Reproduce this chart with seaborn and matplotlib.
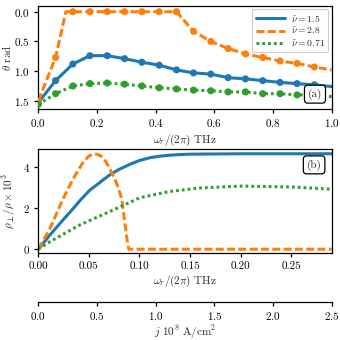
import matplotlib
matplotlib.use("Agg")
import matplotlib.pyplot as plt
import seaborn as sns

# ---------------- data: panel (a) ----------------
omega_a_markers = [0.0, 0.059, 0.118, 0.176, 0.235, 0.294, 0.353, 0.412, 0.471,
                   0.529, 0.588, 0.647, 0.706, 0.765, 0.824, 0.882, 0.941]
theta_blue_markers = [1.53, 1.16, 0.88, 0.74, 0.74, 0.79, 0.85, 0.90, 0.98,
                      1.03, 1.05, 1.11, 1.13, 1.16, 1.19, 1.21, 1.23]
theta_orange_markers = [1.50, 0.77, 0.0, 0.0, 0.0, 0.0, 0.0, 0.0, 0.0,
                        0.33, 0.50, 0.62, 0.71, 0.77, 0.83, 0.87, 0.93]
theta_green_markers = [1.56, 1.38, 1.25, 1.21, 1.20, 1.22, 1.25, 1.28, 1.30,
                       1.32, 1.33, 1.35, 1.35, 1.38, 1.38, 1.40, 1.40]

omega_a_line = [0.0, 0.059, 0.118, 0.176, 0.235, 0.294, 0.353, 0.412, 0.471,
                0.529, 0.588, 0.647, 0.706, 0.765, 0.824, 0.882, 0.941, 1.0]
theta_blue_line = [1.53, 1.16, 0.88, 0.74, 0.74, 0.79, 0.85, 0.90, 0.98,
                   1.03, 1.05, 1.11, 1.13, 1.16, 1.19, 1.21, 1.23, 1.26]
theta_green_line = [1.56, 1.38, 1.25, 1.21, 1.20, 1.22, 1.25, 1.28, 1.30,
                    1.32, 1.33, 1.35, 1.35, 1.38, 1.38, 1.40, 1.40, 1.43]
omega_a_orange_line = [0.0, 0.059, 0.094, 0.471, 0.529, 0.588, 0.647, 0.706,
                       0.765, 0.824, 0.882, 0.941, 1.0]
theta_orange_line = [1.50, 0.77, 0.0, 0.0, 0.33, 0.50, 0.62, 0.71,
                     0.77, 0.83, 0.87, 0.93, 0.98]

# ---------------- data: panel (b) ----------------
omega_b_blue = [0.0, 0.0116, 0.0248, 0.033, 0.0413, 0.0512, 0.0578, 0.065, 0.071,
                0.080, 0.0908, 0.100, 0.1106, 0.120, 0.130, 0.140, 0.150, 0.200,
                0.250, 0.290]
rho_blue = [0.0, 0.70, 1.45, 1.90, 2.38, 2.90, 3.14, 3.42, 3.64,
            3.90, 4.15, 4.33, 4.47, 4.54, 4.59, 4.62, 4.64, 4.66,
            4.66, 4.66]
omega_b_orange = [0.0, 0.0116, 0.0248, 0.0347, 0.0446, 0.0500, 0.0545, 0.0585,
                  0.062, 0.0665, 0.071, 0.0776, 0.0826, 0.0855, 0.0885, 0.0895,
                  0.290]
rho_orange = [0.0, 1.02, 2.49, 3.46, 4.27, 4.55, 4.65, 4.63,
              4.55, 4.30, 3.90, 3.20, 2.45, 1.30, 0.20, 0.0,
              0.0]
omega_b_green = [0.0, 0.0116, 0.0413, 0.0743, 0.1007, 0.130, 0.160, 0.200,
                 0.250, 0.290]
rho_green = [0.0, 0.37, 1.19, 1.92, 2.52, 2.82, 2.99, 3.08, 3.04, 2.93]

legend_labels = [r"$\tilde{\nu}=1.5$", r"$\tilde{\nu}=2.8$", r"$\tilde{\nu}=0.71$"]
colors = ["#1f77b4", "#ff7f0e", "#2ca02c"]

j_ticks = [0.0, 0.5, 1.0, 1.5, 2.0, 2.5]

# ---------------- style ----------------
sns.set_style("ticks")
plt.rcParams.update({
    "font.family": "serif",
    "font.serif": ["cmr10", "DejaVu Serif"],
    "mathtext.fontset": "cm",
    "axes.formatter.use_mathtext": True,
    "font.size": 8,
    "axes.labelsize": 8,
    "xtick.labelsize": 8,
    "ytick.labelsize": 8,
    "axes.linewidth": 0.9,
    "axes.edgecolor": "black",
    "xtick.major.size": 3,
    "ytick.major.size": 3,
    "xtick.major.width": 0.9,
    "ytick.major.width": 0.9,
    "xtick.major.pad": 3,
    "ytick.major.pad": 3,
    "xtick.color": "black",
    "ytick.color": "black",
})

fig = plt.figure(figsize=(3.4, 3.4), dpi=100)
L, W = 0.1126, 0.863
ax1 = fig.add_axes([L, 0.679, W, 0.304])
ax2 = fig.add_axes([L, 0.255, W, 0.306])
ax3 = fig.add_axes([L, 0.112, W, 0.0001])

lw = 2.2
dash_o = (2.6, 1.1)
dot_g = (0.9, 1.0)

# panel (a)
sns.lineplot(x=omega_a_line, y=theta_blue_line, ax=ax1, color=colors[0], lw=lw,
             label=legend_labels[0], sort=False)
sns.lineplot(x=omega_a_orange_line, y=theta_orange_line, ax=ax1, color=colors[1],
             lw=lw, label=legend_labels[1], sort=False)
sns.lineplot(x=omega_a_line, y=theta_green_line, ax=ax1, color=colors[2], lw=lw,
             label=legend_labels[2], sort=False)
lines = ax1.get_lines()
lines[1].set_dashes(dash_o)
lines[2].set_dashes(dot_g)
for yv, c in zip([theta_blue_markers, theta_orange_markers, theta_green_markers], colors):
    sns.scatterplot(x=omega_a_markers, y=yv, ax=ax1, color=c, s=26,
                    edgecolor="none", linewidth=0, zorder=3)

ax1.set_xlim(0, 1.0)
ax1.set_ylim(1.64, -0.10)
ax1.set_yticks([0.0, 0.5, 1.0, 1.5])
ax1.set_xticks([0.0, 0.2, 0.4, 0.6, 0.8, 1.0])
ax1.set_xlabel(r"$\omega_r/(2\pi)$ THz", labelpad=2)
ax1.set_ylabel(r"$\theta$ rad")
ax1.yaxis.set_label_coords(-0.085, 0.5)
leg = ax1.legend(loc="upper right", fontsize=7, handlelength=3.0,
                 frameon=True, fancybox=True, framealpha=1, edgecolor="#cccccc",
                 borderpad=0.35, labelspacing=0.2, handletextpad=0.6,
                 borderaxespad=0.35)
leg.get_frame().set_linewidth(0.8)
ax1.text(0.943, 0.145, "(a)", transform=ax1.transAxes, ha="center", va="center",
         fontsize=8, bbox=dict(boxstyle="round,pad=0.3", fc="white", ec="black", lw=0.9))

# panel (b)
sns.lineplot(x=omega_b_blue, y=rho_blue, ax=ax2, color=colors[0], lw=lw, sort=False)
sns.lineplot(x=omega_b_orange, y=rho_orange, ax=ax2, color=colors[1], lw=lw, sort=False)
sns.lineplot(x=omega_b_green, y=rho_green, ax=ax2, color=colors[2], lw=lw, sort=False)
l2 = ax2.get_lines()
l2[1].set_dashes(dash_o)
l2[2].set_dashes(dot_g)
ax2.set_xlim(0, 0.29)
ax2.set_ylim(-0.2, 4.88)
ax2.set_yticks([0, 2, 4])
ax2.set_xticks([0.0, 0.05, 0.10, 0.15, 0.20, 0.25])
ax2.set_xticklabels(["0.00", "0.05", "0.10", "0.15", "0.20", "0.25"])
ax2.set_xlabel(r"$\omega_r/(2\pi)$ THz", labelpad=2)
ax2.set_ylabel(r"$\rho_\perp/\rho\times10^3$")
ax2.yaxis.set_label_coords(-0.068, 0.5)
if ax2.get_legend() is not None:
    ax2.get_legend().remove()
ax2.text(0.94, 0.85, "(b)", transform=ax2.transAxes, ha="center", va="center",
         fontsize=8, bbox=dict(boxstyle="round,pad=0.3", fc="white", ec="black", lw=0.9))

# current axis
ax3.set_xlim(0, 2.5)
ax3.set_xticks(j_ticks)
ax3.set_yticks([])
for s in ["left", "right", "top"]:
    ax3.spines[s].set_visible(False)
ax3.patch.set_visible(False)
ax3.set_xlabel(r"$j$ $10^8$ A/cm$^2$", labelpad=1)

fig.savefig("out.png", dpi=100)
